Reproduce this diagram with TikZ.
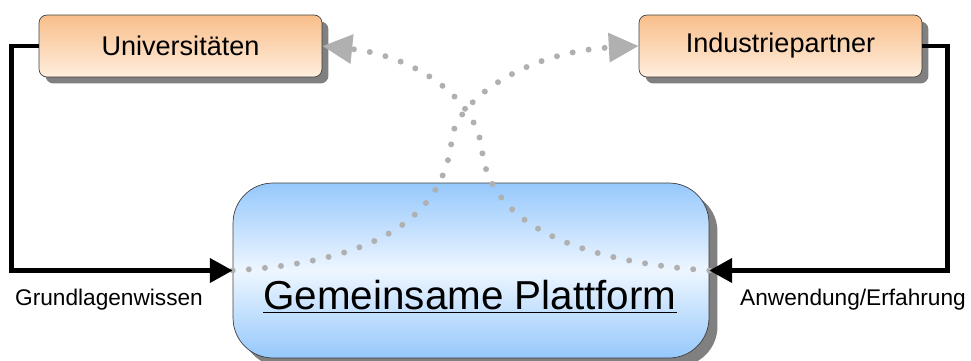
\documentclass[tikz,border=0pt]{standalone}
\usepackage{fontspec}
\setmainfont{Liberation Sans}
\usepackage{tikz}
\usetikzlibrary{arrows.meta,shadows}

\definecolor{peachtop}{RGB}{248,190,138}
\definecolor{peachbot}{RGB}{255,238,222}
\definecolor{skytop}{RGB}{150,200,252}
\definecolor{skymid}{RGB}{238,246,255}
\definecolor{dotgray}{RGB}{176,176,176}

\begin{document}
\begin{tikzpicture}[x=0.02cm, y=0.02cm,
    partner/.style={rectangle, rounded corners=4.5pt, draw=black!75, thin, top color=peachtop, bottom color=peachbot, minimum width=5.66cm, minimum height=1.24cm, font=\fontsize{15.4}{18}\selectfont, drop shadow={shadow xshift=0.13cm, shadow yshift=-0.13cm, fill=black!50, opacity=1}},
    platform/.style={rectangle, rounded corners=0.8cm, draw=black!75, thin, top color=skytop, bottom color=skytop, middle color=skymid, minimum width=9.52cm, minimum height=3.5cm, drop shadow={shadow xshift=0.17cm, shadow yshift=-0.17cm, fill=black!50, opacity=1}},
    feed/.style={-{Triangle[length=13pt, width=13.5pt]}, line width=2.8pt, black},
    flow/.style={-{Triangle[length=17pt, width=16pt]}, draw=dotgray, line width=3.4pt, line cap=round, dash pattern=on 0pt off 9.2pt},
    label text/.style={font=\fontsize{12.9}{15}\selectfont}
]
\useasboundingbox (0,0) rectangle (971,360);

% Partner boxes
\node[partner] (univ) at (180.5, 314) {Universitäten};
\node[partner] (industrie) at (780.5, 314) {Industriepartner};

% Platform
\node[platform] (plattform) at (471, 89.5) {};
\node[font=\fontsize{23}{27}\selectfont] (titel) at (470, 63) {\underline{Gemeinsame Plattform}};

% Dotted exchange paths
\draw[flow] (plattform.west) .. controls (380,98) and (445,145) .. (452,223)
    .. controls (458,260) and (525,308) .. (industrie.west);
\draw[flow] (plattform.east) .. controls (580,98) and (490,135) .. (482,210)
    .. controls (476,265) and (410,305) .. (univ.east);

% Inputs to the platform
\draw[feed] (univ.west) -- ++(-27,0) |- (plattform.west);
\draw[feed] (industrie.east) -- ++(25,0) |- (plattform.east);

% Labels
\node[label text] (grund) at (109, 60) {Grundlagenwissen};
\node[label text] (anwend) at (853, 60) {Anwendung/Erfahrung};

\end{tikzpicture}
\end{document}
